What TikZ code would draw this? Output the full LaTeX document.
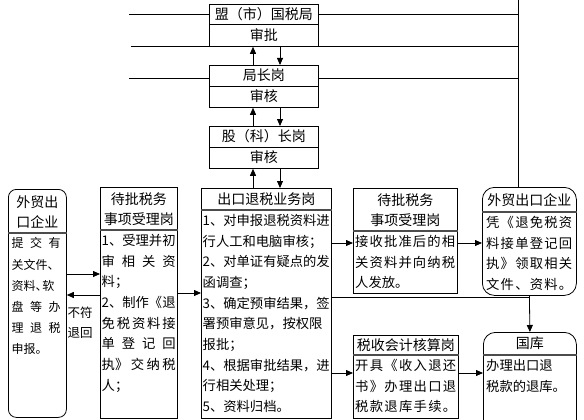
\documentclass[tikz,border=0pt]{standalone}
\usepackage{fontspec}
\setmainfont{Noto Sans CJK SC}
\usetikzlibrary{positioning}
\usetikzlibrary{arrows.meta}

\newcommand{\bodyfont}{\fontsize{13.3}{20.7}\selectfont}
\newcommand{\headfont}{\fontsize{14}{20}\selectfont}
\newcommand{\smallfont}{\fontsize{12.5}{20}\selectfont}
\newcommand{\fl}[1]{\makebox[\linewidth][s]{\spaceskip=0pt plus 1fil #1}}
\newcommand{\dun}{\makebox[0.55em][l]{、}}

\tikzset{
  box/.style={draw, line width=0.8pt, inner sep=0pt, anchor=north west},
  rbox/.style={box, rounded corners=#1},
  sep/.style={draw=black!70, line width=1.3pt},
  hd/.style={inner sep=0pt, align=center, font=\headfont},
  txt/.style={inner sep=0pt, align=left, anchor=north west, font=\bodyfont, text width=#1},
  arr/.style={-{Triangle[length=7pt,width=6pt]}, line width=0.8pt},
  ln/.style={line width=0.8pt}
}

\begin{document}
\begin{tikzpicture}[x=1pt, y=-1pt]
    \useasboundingbox[fill=white] (0,0) rectangle (584,420);

    % Define nodes
    \node[box, minimum width=109, minimum height=42] (mb) at (209,4) {};
    \draw[ln] (mb.west |- 0,24) -- (mb.east |- 0,24);
    \node[hd] at (mb.north |- 0,14) {盟（市）国税局};
    \node[hd] at (mb.north |- 0,35) {审批};

    \node[box, minimum width=109, minimum height=42] (jz) at (209,65) {};
    \draw[ln] (jz.west |- 0,86) -- (jz.east |- 0,86);
    \node[hd] at (jz.north |- 0,75.5) {局长岗};
    \node[hd] at (jz.north |- 0,96.5) {审核};

    \node[box, minimum width=109, minimum height=42] (gz) at (209,126) {};
    \draw[ln] (gz.west |- 0,147) -- (gz.east |- 0,147);
    \node[hd] at (gz.north |- 0,136.5) {股（科）长岗};
    \node[hd] at (gz.north |- 0,157.5) {审核};

    \node[rbox=8pt, minimum width=58, minimum height=228] (wmL) at (8,189) {};
    \draw[sep] (wmL.west |- 0,233) -- (wmL.east |- 0,233);
    \node[hd] at (wmL.north |- 0,212) {外贸出\\口企业};
    \node[txt=49, font=\fontsize{12}{21.2}\selectfont] at (11.5,237.5) {\fl{提 交 有}\\关文件、\\资料\dun 软\\\fl{盘 等 办}\\\fl{理 退 税}\\申报。};

    \node[box, minimum width=77, minimum height=231] (dpL) at (100,187) {};
    \draw[sep] (dpL.west |- 0,230) -- (dpL.east |- 0,230);
    \node[hd] at (dpL.north |- 0,209) {待批税务\\事项受理岗};
    \node[txt=74] at (101.5,234) {1、受理并初\\\fl{审 相 关 资}\\料；\\2、制作《退\\\fl{免 税 资 料 接}\\\fl{单 登 记 回}\\\fl{执》 交 纳 税}\\人；};

    \node[box, minimum width=130, minimum height=230] (exp) at (201,188) {};
    \draw[sep] (exp.west |- 0,210) -- (exp.east |- 0,210);
    \node[hd] at (exp.north |- 0,199) {出口退税业务岗};
    \node[txt=128] at (202.5,214) {1、对申报退税资料进\\行人工和电脑审核；\\2、对单证有疑点的发\\函调查；\\3、确定预审结果，签\\署预审意见，按权限\\报批；\\4、根据审批结果，进\\行相关处理；\\5、资料归档。};

    \node[box, minimum width=104, minimum height=105] (dpR) at (353,188) {};
    \draw[sep] (dpR.west |- 0,231) -- (dpR.east |- 0,231);
    \node[hd] at (dpR.north |- 0,210) {待批税务\\事项受理岗};
    \node[txt=100] at (355,235) {\fl{接 收 批 准 后 的 相}\\\fl{关 资 料 并 向 纳 税}\\人发放。};

    \node[rbox=12pt, minimum width=94, minimum height=108] (wmR) at (482,187) {};
    \draw[sep] (wmR.west |- 0,212) -- (wmR.east |- 0,212);
    \node[hd] at (wmR.north |- 0,200) {外贸出口企业};
    \node[txt=86] at (486,216) {\fl{凭 《 退 免 税 资}\\\fl{料 接 单 登 记 回}\\\fl{执 》 领 取 相 关}\\\fl{文 件 、 资 料 。}};

    \node[box, minimum width=105, minimum height=83] (tx) at (353,335) {};
    \draw[sep] (tx.west |- 0,355) -- (tx.east |- 0,355);
    \node[hd] at (tx.north |- 0,345) {税收会计核算岗};
    \node[txt=101] at (355,359) {\fl{开 具 《 收 入 退 还}\\\fl{书 》 办 理 出 口 退}\\\fl{税 款 退 库 手 续 。}};

    \node[rbox=12pt, minimum width=93, minimum height=100] (gk) at (483,332) {};
    \draw[sep] (gk.west |- 0,355) -- (gk.east |- 0,355);
    \node[hd] at (gk.north |- 0,343.5) {国库};
    \node[txt=88] at (486,359) {办理出口退\\税款的退库。};

    \node[hd, font=\smallfont] (bf) at (80,313) {不符};
    \node[hd, font=\smallfont] (th) at (80,333) {退回};

    % Connect the nodes
    \coordinate (rt) at (518,0);
    \coordinate (l1) at (129,14);
    \coordinate (l2) at (131,46);
    \coordinate (l3) at (129,78);
    \draw[ln] (rt) -- (rt |- wmR.north);
    \draw[ln] (l1) -- (l1 -| mb.west);
    \draw[ln] (l1 -| mb.east) -- (l1 -| rt);
    \draw[ln] (l2) -- (l2 -| rt);
    \draw[ln] (l3) -- (l3 -| jz.west);
    \draw[ln] (l3 -| jz.east) -- (l3 -| rt);

    \draw[arr] (jz.north -| 253,0) -- (mb.south -| 253,0);
    \draw[arr] (mb.south -| 280,0) -- (jz.north -| 280,0);
    \draw[arr] (gz.north -| 253,0) -- (jz.south -| 253,0);
    \draw[arr] (jz.south -| 280,0) -- (gz.north -| 280,0);
    \draw[arr] (exp.north -| 253,0) -- (gz.south -| 253,0);
    \draw[arr] (gz.south -| 280,0) -- (exp.north -| 280,0);

    \draw[arr] (wmL.east |- 0,274) -- (dpL.west |- 0,274);
    \draw[arr] (dpL.west |- 0,295) -- (wmL.east |- 0,295);
    \draw[arr] (dpL.east |- 0,293) -- (exp.west |- 0,293);
    \draw[arr] (exp.east |- 0,243) -- (dpR.west |- 0,243);
    \draw[arr] (dpR.east |- 0,243) -- (wmR.west |- 0,243);
    \draw[ln] (exp.east |- 0,297) -- (wmR.south |- 0,297);
    \draw[arr] (wmR.south) -- (gk.north);
    \draw[arr] (exp.east |- 0,373) -- (tx.west |- 0,373);
    \draw[arr] (tx.east |- 0,373) -- (gk.west |- 0,373);
\end{tikzpicture}
\end{document}
